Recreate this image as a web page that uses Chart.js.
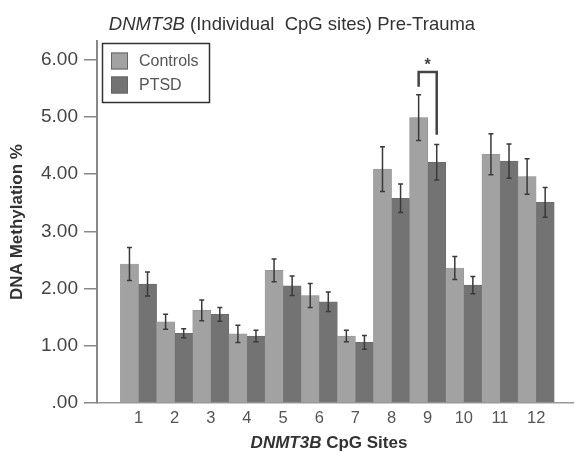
<!DOCTYPE html>
<html>
<head>
<meta charset="utf-8">
<script src="https://cdn.jsdelivr.net/npm/chart.js@4.4.0/dist/chart.umd.min.js"></script>
<style>
  body { margin: 0; background: #fff; }
  #wrap { width: 575px; height: 452px; }
</style>
</head>
<body>
<div id="wrap"><canvas id="grafico" width="575" height="452"></canvas></div>
<script>
var sites = ["1", "2", "3", "4", "5", "6", "7", "8", "9", "10", "11", "12"];
var controls = [2.43, 1.42, 1.62, 1.21, 2.32, 1.88, 1.17, 4.09, 4.99, 2.36, 4.35, 3.96];
var ptsd = [2.08, 1.22, 1.55, 1.17, 2.05, 1.77, 1.06, 3.58, 4.21, 2.06, 4.23, 3.51];
var controlsErr = [0.29, 0.13, 0.18, 0.15, 0.20, 0.21, 0.10, 0.39, 0.40, 0.20, 0.36, 0.31];
var ptsdErr = [0.21, 0.08, 0.12, 0.10, 0.17, 0.17, 0.12, 0.25, 0.31, 0.15, 0.30, 0.26];
var yTicks = [0, 1, 2, 3, 4, 5, 6];
var yTickLabels = [".00", "1.00", "2.00", "3.00", "4.00", "5.00", "6.00"];
// significance bracket over site 9
var sigSite = 9;
var sigTop = 5.79;

var FONT = "'Liberation Sans', Arial, sans-serif";

var extras = {
    id: "extras",
    afterDatasetsDraw: function (chart) {
        var c = chart.ctx;
        var ys = chart.scales.y;
        var errs = [controlsErr, ptsdErr];

        // error bars
        c.save();
        c.strokeStyle = "#3a3a3a";
        c.lineWidth = 1.5;
        chart.data.datasets.forEach(function (ds, d) {
            var meta = chart.getDatasetMeta(d);
            meta.data.forEach(function (bar, i) {
                var v = ds.data[i].y;
                var e = errs[d][i];
                var yt = ys.getPixelForValue(v + e);
                var yb = ys.getPixelForValue(v - e);
                c.beginPath();
                c.moveTo(bar.x, yt);
                c.lineTo(bar.x, yb);
                c.moveTo(bar.x - 2.5, yt);
                c.lineTo(bar.x + 2.5, yt);
                c.moveTo(bar.x - 2.5, yb);
                c.lineTo(bar.x + 2.5, yb);
                c.stroke();
            });
        });

        // bracket
        var i9 = sigSite - 1;
        var bx1 = chart.getDatasetMeta(0).data[i9].x;
        var bx2 = chart.getDatasetMeta(1).data[i9].x;
        var yTop = ys.getPixelForValue(sigTop);
        var yL = ys.getPixelForValue(controls[i9] + controlsErr[i9] + 0.14);
        var yR = ys.getPixelForValue(ptsd[i9] + ptsdErr[i9] + 0.17);
        c.strokeStyle = "#444";
        c.lineWidth = 2.5;
        c.beginPath();
        c.moveTo(bx1, yL);
        c.lineTo(bx1, yTop);
        c.lineTo(bx2, yTop);
        c.lineTo(bx2, yR);
        c.stroke();
        c.fillStyle = "#444";
        c.font = "bold 16px " + FONT;
        c.textAlign = "center";
        c.textBaseline = "middle";
        c.fillText("*", (bx1 + bx2) / 2, yTop - 6);

        // legend box
        c.lineWidth = 1.5;
        c.strokeStyle = "#333";
        c.strokeRect(102.5, 43.5, 107, 59);
        var rows = [61, 85];
        chart.data.datasets.forEach(function (ds, d) {
            c.fillStyle = ds.backgroundColor;
            c.fillRect(111, rows[d] - 8.5, 17, 17);
            c.strokeStyle = "#666";
            c.lineWidth = 1;
            c.strokeRect(111.5, rows[d] - 8, 16, 16);
            c.fillStyle = "#555";
            c.font = "16px " + FONT;
            c.textAlign = "left";
            c.textBaseline = "middle";
            c.fillText(ds.label, 139, rows[d] + 1);
        });

        // main title, gene name in italics
        drawMixed(c, [["italic 18.5px " + FONT, "DNMT3B"], ["18.5px " + FONT, " (Individual  CpG sites) Pre-Trauma"]], 292, 25, "#333");
        // x axis title
        drawMixed(c, [["italic bold 17px " + FONT, "DNMT3B"], ["bold 17px " + FONT, " CpG Sites"]], 329, 443, "#333");
        c.restore();
    },
};

function drawMixed(c, parts, cx, cy, color) {
    var total = 0;
    parts.forEach(function (p) {
        c.font = p[0];
        total += c.measureText(p[1]).width;
    });
    var x = cx - total / 2;
    c.fillStyle = color;
    c.textAlign = "left";
    c.textBaseline = "middle";
    parts.forEach(function (p) {
        c.font = p[0];
        c.fillText(p[1], x, cy);
        x += c.measureText(p[1]).width;
    });
}

var ctx = document.getElementById("grafico");
var myChart = new Chart(ctx, {
    type: "bar",
    data: {
        datasets: [
            {
                label: "Controls",
                data: controls.map(function (v, i) { return { x: i + 1, y: v }; }),
                backgroundColor: "#a2a2a2",
                borderColor: "#8f8f8f",
                borderWidth: 0.5,
            },
            {
                label: "PTSD",
                data: ptsd.map(function (v, i) { return { x: i + 1, y: v }; }),
                backgroundColor: "#737373",
                borderColor: "#666",
                borderWidth: 0.5,
            },
        ],
    },
    options: {
        responsive: false,
        animation: false,
        categoryPercentage: 1,
        barPercentage: 1,
        layout: {
            padding: { top: 41, left: 0, right: 2, bottom: 0 },
        },
        plugins: {
            legend: { display: false },
            tooltip: { enabled: false },
        },
        scales: {
            x: {
                type: "linear",
                offset: false,
                min: -0.148,
                max: 13.02,
                afterBuildTicks: function (scale) {
                    scale.ticks = sites.map(function (s, i) { return { value: i + 1 }; });
                },
                afterFit: function (scale) {
                    scale.height = 49;
                },
                grid: { display: false, drawTicks: false },
                border: { display: true, color: "#999", width: 1.5 },
                ticks: {
                    autoSkip: false,
                    maxRotation: 0,
                    padding: 6,
                    color: "#555",
                    font: { family: FONT, size: 16.5 },
                    callback: function (value) {
                        return sites[value - 1];
                    },
                },
            },
            y: {
                min: 0,
                max: 6.33,
                afterBuildTicks: function (scale) {
                    scale.ticks = yTicks.map(function (v) { return { value: v }; });
                },
                afterFit: function (scale) {
                    scale.width = 97;
                },
                grid: {
                    drawOnChartArea: false,
                    drawTicks: true,
                    tickLength: 13,
                    color: "#888",
                    lineWidth: 1.5,
                },
                border: { display: true, color: "#888", width: 2 },
                ticks: {
                    padding: 6,
                    color: "#444",
                    font: { family: FONT, size: 19 },
                    callback: function (value) {
                        return yTickLabels[yTicks.indexOf(value)];
                    },
                },
                title: {
                    display: true,
                    text: "DNA Methylation %",
                    color: "#333",
                    font: { family: FONT, size: 17, weight: "bold" },
                    padding: { top: 7, bottom: 0 },
                },
            },
        },
    },
    plugins: [extras],
});
</script>
</body>
</html>
